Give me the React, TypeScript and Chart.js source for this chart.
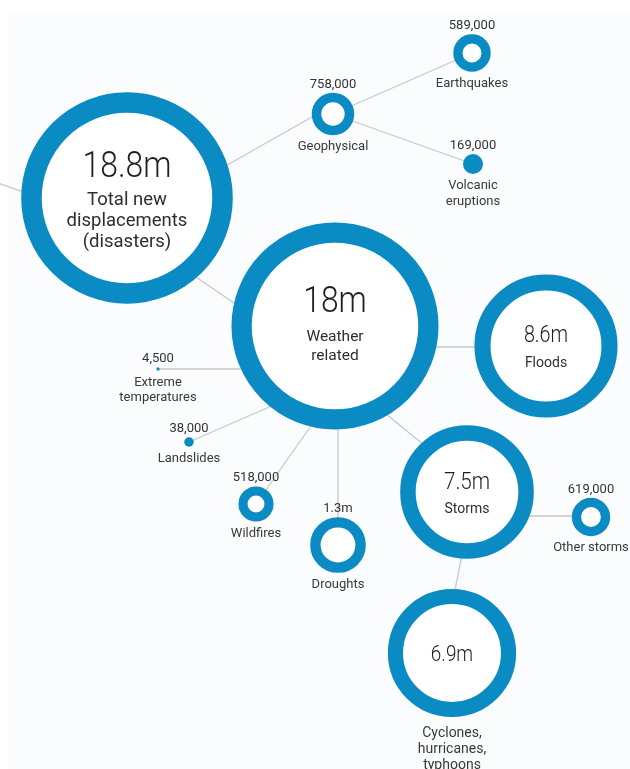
import { useEffect, useRef } from "react";
import { Chart, registerables } from "chart.js";

Chart.register(...registerables);

// ---------------- data ----------------
const CATEGORIES = [
  "Total new displacements (disasters)",
  "Geophysical",
  "Earthquakes",
  "Volcanic eruptions",
  "Weather related",
  "Floods",
  "Storms",
  "Other storms",
  "Cyclones, hurricanes, typhoons",
  "Droughts",
  "Wildfires",
  "Landslides",
  "Extreme temperatures",
];
const VALUES = [
  18800000, 758000, 589000, 169000, 18000000, 8600000, 7500000, 619000,
  6900000, 1300000, 518000, 38000, 4500,
];
const VALUE_TEXT = [
  "18.8m", "758,000", "589,000", "169,000", "18m", "8.6m", "7.5m", "619,000",
  "6.9m", "1.3m", "518,000", "38,000", "4,500",
];
const LABEL_LINES = [
  ["Total new", "displacements", "(disasters)"],
  ["Geophysical"],
  ["Earthquakes"],
  ["Volcanic", "eruptions"],
  ["Weather", "related"],
  ["Floods"],
  ["Storms"],
  ["Other storms"],
  ["Cyclones,", "hurricanes,", "typhoons"],
  ["Droughts"],
  ["Wildfires"],
  ["Landslides"],
  ["Extreme", "temperatures"],
];

// ---------------- layout (positions in chart units) ----------------
const NODE_X = [127, 333, 472, 473, 335, 546, 467, 591, 452, 338, 256, 189, 158];
const NODE_Y = [198, 114, 53, 164, 326, 346, 492, 517, 653, 545, 504, 442, 369];
// connector segments [x1, y1, x2, y2]
const LINKS: number[][] = [
  [-5, 182, 60, 205],
  [215, 172, 333, 105],
  [333, 114, 472, 53],
  [333, 114, 473, 164],
  [170, 259, 260, 321],
  [420, 347, 546, 347],
  [370, 401, 467, 480],
  [467, 516, 591, 516],
  [466, 535, 449, 620],
  [338, 400, 338, 545],
  [320, 413, 256, 504],
  [290, 398, 189, 442],
  [158, 369, 260, 369],
];
// inside-text styles: [valueSize, valueDy, labelSize, labelDy, lineH] (labelSize 0 => label outside)
const INSIDE: Record<number, number[]> = {
  0: [37, -21, 18.5, 7, 21],
  4: [37, -14, 15.5, 15, 19],
  5: [23, -4, 14, 21, 16],
  6: [24, -3, 14, 21, 16],
  8: [22, 8, 0, 0, 0],
};

const BLUE = "#0b8bc4";
const K = 24.4;
const outerR = (v: number) => K * Math.sqrt(v / 1e6);
const ringW = (R: number) => 0.13 * R + 6.8;
const isSolid = (R: number) => R - ringW(R) < 5;

const bgPlugin = {
  id: "bgfill",
  beforeDraw(chart: any) {
    const { ctx, width, height } = chart;
    ctx.save();
    ctx.fillStyle = "#ffffff";
    ctx.fillRect(0, 0, width, height);
    ctx.fillStyle = "#fbfcfd";
    ctx.fillRect(8, 12, width - 8, height - 12);
    ctx.restore();
  },
};

const labelPlugin = {
  id: "nodelabels",
  afterDatasetsDraw(chart: any) {
    const { ctx } = chart;
    const xs = chart.scales.x;
    const ys = chart.scales.y;
    ctx.save();
    ctx.textAlign = "center";
    ctx.textBaseline = "alphabetic";
    CATEGORIES.forEach((_, i) => {
      const cx = xs.getPixelForValue(NODE_X[i]);
      const cy = ys.getPixelForValue(NODE_Y[i]);
      const R = outerR(VALUES[i]);
      const inside = INSIDE[i];
      const lines = LABEL_LINES[i];
      if (inside) {
        const [vs, vdy, ls, ldy, lh] = inside;
        ctx.save();
        ctx.translate(cx, cy + vdy);
        ctx.scale(0.86, 1);
        ctx.fillStyle = "#1f1f1f";
        ctx.font = `300 ${vs}px Roboto`;
        ctx.fillText(VALUE_TEXT[i], 0, 0);
        ctx.restore();
        if (ls > 0) {
          ctx.fillStyle = "#2e2e2e";
          ctx.font = `400 ${ls}px Roboto`;
          lines.forEach((t, j) => ctx.fillText(t, cx, cy + ldy + j * lh));
        } else {
          ctx.fillStyle = "#3a3a3a";
          ctx.font = `400 14px Roboto`;
          lines.forEach((t, j) => ctx.fillText(t, cx, cy + R + 20 + j * 16));
        }
      } else {
        ctx.fillStyle = "#333333";
        ctx.font = `400 13px Roboto`;
        ctx.fillText(VALUE_TEXT[i], cx, cy - R - 5);
        ctx.fillStyle = "#3a3a3a";
        ctx.font = `400 13px Roboto`;
        lines.forEach((t, j) => ctx.fillText(t, cx, cy + R + 15 + j * 15.5));
      }
    });
    ctx.restore();
  },
};

export default function App() {
  const ref = useRef<HTMLCanvasElement | null>(null);
  useEffect(() => {
    document.body.style.margin = "0";
    const canvas = ref.current;
    if (!canvas) return;

    const linkSets = LINKS.map((l) => ({
      type: "line" as const,
      data: [
        { x: l[0], y: l[1] },
        { x: l[2], y: l[3] },
      ],
      borderColor: "#c8c8c8",
      borderWidth: 1.3,
      pointRadius: 0,
      pointHoverRadius: 0,
      fill: false,
      order: 2,
      clip: false as any,
    }));

    const radii = VALUES.map(outerR);
    const bubbleSet = {
      type: "bubble" as const,
      data: CATEGORIES.map((_, i) => {
        const R = radii[i];
        const r = isSolid(R) ? R : R - ringW(R) / 2;
        return { x: NODE_X[i], y: NODE_Y[i], r };
      }),
      backgroundColor: radii.map((R) => (isSolid(R) ? BLUE : "#ffffff")),
      borderColor: BLUE,
      borderWidth: radii.map((R) => (isSolid(R) ? 0 : ringW(R))),
      hoverRadius: 0,
      order: 1,
      clip: false as any,
    };

    const chart = new Chart(canvas, {
      type: "bubble",
      data: { datasets: [...linkSets, bubbleSet] as any },
      options: {
        responsive: false,
        animation: false,
        devicePixelRatio: 1,
        events: [],
        layout: { padding: 0, autoPadding: false },
        scales: {
          x: { type: "linear", min: 0, max: 630, display: false },
          y: { type: "linear", min: 0, max: 769, reverse: true, display: false },
        },
        plugins: {
          legend: { display: false },
          tooltip: { enabled: false },
        },
      },
      plugins: [bgPlugin, labelPlugin],
    });
    return () => chart.destroy();
  }, []);

  return (
    <div style={{ width: 630, height: 769 }}>
      <canvas ref={ref} width={630} height={769} style={{ display: "block" }} />
    </div>
  );
}
